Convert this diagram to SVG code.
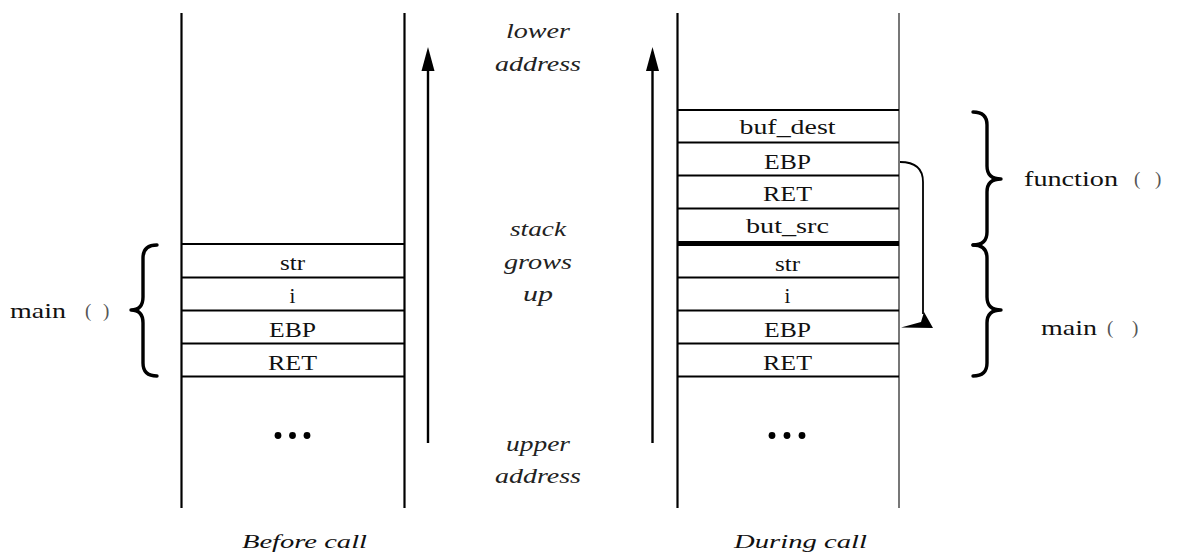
<svg xmlns="http://www.w3.org/2000/svg" width="1178" height="555" viewBox="0 0 1178 555">
  <style>
    .rail { stroke: #000; stroke-width: 2.2; fill: none; }
    .rail-grey { stroke: #555; stroke-width: 1.6; fill: none; }
    .cell { stroke: #000; stroke-width: 2; fill: none; }
    .brace { stroke: #000; stroke-width: 3.4; fill: none; stroke-linecap: round; stroke-linejoin: round; }
    .lbl { font-family: "Liberation Serif", "Times New Roman", serif; font-size: 21px; fill: #111; text-anchor: middle; }
    .side { font-family: "Liberation Serif", "Times New Roman", serif; font-size: 21px; fill: #111; }
    .paren { font-family: "Liberation Serif", "Times New Roman", serif; font-size: 19px; fill: #555; }
    .note { font-family: "Liberation Serif", "Times New Roman", serif; font-style: italic; font-size: 21px; fill: #222; text-anchor: middle; }
    .caption { font-family: "Liberation Serif", "Times New Roman", serif; font-style: italic; font-size: 19px; fill: #111; }
    .shaft { stroke: #000; stroke-width: 2.4; fill: none; }
    .head { fill: #000; }
  </style>
  <rect width="1178" height="555" fill="#fff"/>

  <!-- stack before the call -->
  <g id="stack-before">
    <line class="rail" x1="181.5" y1="13" x2="181.5" y2="508"/>
    <line class="rail" x1="404.5" y1="13" x2="404.5" y2="508"/>
    <line class="cell" x1="181" y1="244" x2="405" y2="244"/>
    <line class="cell" x1="181" y1="277.5" x2="405" y2="277.5"/>
    <line class="cell" x1="181" y1="310.5" x2="405" y2="310.5"/>
    <line class="cell" x1="181" y1="343.5" x2="405" y2="343.5"/>
    <line class="cell" x1="181" y1="376.5" x2="405" y2="376.5"/>
    <text class="lbl" x="292.5" y="270" textLength="25" lengthAdjust="spacingAndGlyphs">str</text>
    <text class="lbl" x="292.5" y="303">i</text>
    <text class="lbl" x="292.5" y="336.5" textLength="47" lengthAdjust="spacingAndGlyphs">EBP</text>
    <text class="lbl" x="292.5" y="369.5" textLength="49" lengthAdjust="spacingAndGlyphs">RET</text>
    <circle cx="278" cy="435.5" r="3.4" fill="#000"/>
    <circle cx="292.5" cy="435.5" r="3.4" fill="#000"/>
    <circle cx="307" cy="435.5" r="3.4" fill="#000"/>
  </g>

  <!-- main() frame label, left -->
  <g id="main-label-left">
    <path class="brace" d="M157,245 Q143,245 143,258 L143,297 Q143,310 131,310 Q143,310 143,323 L143,363 Q143,376 157,376"/>
    <text class="side" x="10" y="318" textLength="56" lengthAdjust="spacingAndGlyphs">main</text>
    <text class="paren" x="85" y="317">(</text>
    <text class="paren" x="103" y="317">)</text>
  </g>

  <!-- stack during the call -->
  <g id="stack-during">
    <line class="rail" x1="677.5" y1="13" x2="677.5" y2="508"/>
    <line class="rail-grey" x1="899" y1="13" x2="899" y2="508"/>
    <line class="cell" x1="677" y1="110" x2="899" y2="110"/>
    <line class="cell" x1="677" y1="142.5" x2="899" y2="142.5"/>
    <line class="cell" x1="677" y1="175.5" x2="899" y2="175.5"/>
    <line class="cell" x1="677" y1="208.5" x2="899" y2="208.5"/>
    <line x1="677" y1="243.5" x2="899" y2="243.5" stroke="#000" stroke-width="5"/>
    <line class="cell" x1="677" y1="277.5" x2="899" y2="277.5"/>
    <line class="cell" x1="677" y1="310.5" x2="899" y2="310.5"/>
    <line class="cell" x1="677" y1="343.5" x2="899" y2="343.5"/>
    <line class="cell" x1="677" y1="376.5" x2="899" y2="376.5"/>
    <text class="lbl" x="787.5" y="134" textLength="96" lengthAdjust="spacingAndGlyphs">buf_dest</text>
    <text class="lbl" x="787.5" y="168.5" textLength="47" lengthAdjust="spacingAndGlyphs">EBP</text>
    <text class="lbl" x="787.5" y="200.5" textLength="49" lengthAdjust="spacingAndGlyphs">RET</text>
    <text class="lbl" x="787.5" y="232.5" textLength="83" lengthAdjust="spacingAndGlyphs">but_src</text>
    <text class="lbl" x="787.5" y="270.5" textLength="25" lengthAdjust="spacingAndGlyphs">str</text>
    <text class="lbl" x="787.5" y="303">i</text>
    <text class="lbl" x="787.5" y="336.5" textLength="47" lengthAdjust="spacingAndGlyphs">EBP</text>
    <text class="lbl" x="787.5" y="369.5" textLength="49" lengthAdjust="spacingAndGlyphs">RET</text>
    <circle cx="772" cy="435.5" r="3.4" fill="#000"/>
    <circle cx="787" cy="435.5" r="3.4" fill="#000"/>
    <circle cx="802" cy="435.5" r="3.4" fill="#000"/>
  </g>

  <!-- function() and main() frame labels, right -->
  <g id="function-label">
    <path class="brace" d="M973,112 Q987,112 987,125 L987,166 Q987,179 1001,179 Q987,179 987,192 L987,232 Q987,245 973,245"/>
    <text class="side" x="1024" y="186" textLength="94" lengthAdjust="spacingAndGlyphs">function</text>
    <text class="paren" x="1134" y="185">(</text>
    <text class="paren" x="1155" y="185">)</text>
  </g>
  <g id="main-label-right">
    <path class="brace" d="M973,245 Q987,245 987,258 L987,297 Q987,310 1001,310 Q987,310 987,323 L987,363 Q987,376 973,376"/>
    <text class="side" x="1041" y="335" textLength="56" lengthAdjust="spacingAndGlyphs">main</text>
    <text class="paren" x="1107" y="334">(</text>
    <text class="paren" x="1132" y="334">)</text>
  </g>

  <!-- growth direction notes -->
  <g id="address-notes">
    <text class="note" x="538" y="38" textLength="64" lengthAdjust="spacingAndGlyphs">lower</text>
    <text class="note" x="538" y="71" textLength="86" lengthAdjust="spacingAndGlyphs">address</text>
    <text class="note" x="538" y="236" textLength="56" lengthAdjust="spacingAndGlyphs">stack</text>
    <text class="note" x="538" y="268.5" textLength="68" lengthAdjust="spacingAndGlyphs">grows</text>
    <text class="note" x="538" y="301" textLength="30" lengthAdjust="spacingAndGlyphs">up</text>
    <text class="note" x="538" y="451" textLength="64" lengthAdjust="spacingAndGlyphs">upper</text>
    <text class="note" x="538" y="483" textLength="86" lengthAdjust="spacingAndGlyphs">address</text>
  </g>

  <!-- captions -->
  <g id="captions">
    <text class="caption" x="242" y="548" textLength="125" lengthAdjust="spacingAndGlyphs">Before call</text>
    <text class="caption" x="734" y="548" textLength="133" lengthAdjust="spacingAndGlyphs">During call</text>
  </g>

  <!-- connectors -->
  <g id="connectors">
    <line class="shaft" x1="428" y1="443" x2="428" y2="68"/>
    <polygon class="head" points="428,47 434.5,71 421.5,71"/>
    <line class="shaft" x1="652.5" y1="443" x2="652.5" y2="68"/>
    <polygon class="head" points="652.5,47 659,71 646,71"/>
    <path d="M900,162 Q923,162 923,182 L923,314" stroke="#000" stroke-width="1.8" fill="none"/>
    <polygon class="head" points="901,327.5 933,328 924,312 921,322"/>
  </g>
</svg>
